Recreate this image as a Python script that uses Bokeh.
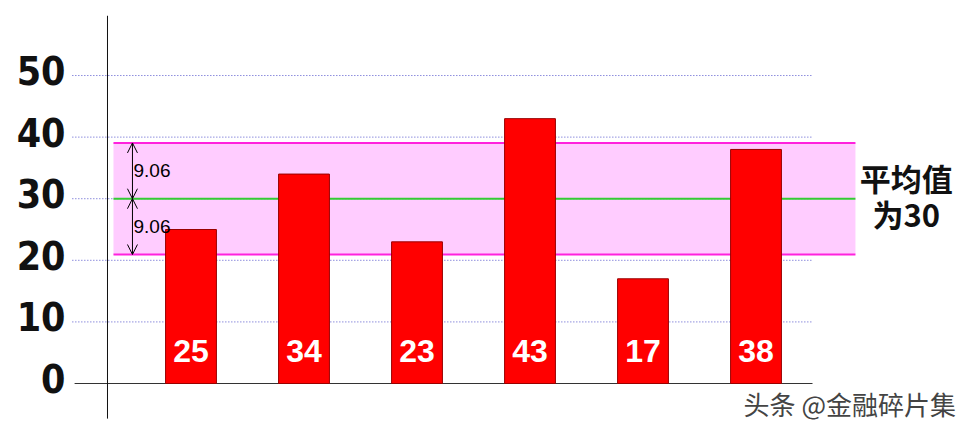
from bokeh.plotting import figure
from bokeh.models import (ColumnDataSource, Range1d, Arrow, OpenHead, Label,
                          BoxAnnotation)
from bokeh.core.properties import value
from bokeh.embed import file_html
from bokeh.resources import INLINE
import math

# ---- data ----
positions = [1, 2, 3, 4, 5, 6]
values = [25, 34, 23, 43, 17, 38]
value_labels = ["25", "34", "23", "43", "17", "38"]
y_ticks = [0, 10, 20, 30, 40, 50]
y_tick_labels = ["0", "10", "20", "30", "40", "50"]
grid_ticks = [10, 20, 30, 40, 50]
sd_label = "9.06"
note_lines = ["平均值", "为30"]
watermark = "头条 @金融碎片集"

mean = sum(values) / len(values)
sd = math.sqrt(sum((v - mean) ** 2 for v in values) / len(values))

p = figure(width=964, height=425, output_backend="svg", toolbar_location=None,
           x_range=Range1d(-0.6858, 7.845), y_range=Range1d(-6.818, 62.18),
           min_border_left=0, min_border_right=0, min_border_top=0,
           min_border_bottom=0, x_axis_location=None, y_axis_location=None)
p.outline_line_color = None
p.xgrid.visible = False
p.ygrid.visible = False
p.background_fill_color = "white"

# y tick labels
p.text(x=-0.111, y=y_ticks, text=y_tick_labels, y_offset=-5,
       text_align="right", text_baseline="middle", text_color="#111111",
       text_font=value("DejaVu Sans Condensed"), text_font_style="bold",
       text_font_size="39px")

# dotted grid lines
p.segment(x0=-0.05, x1=6.5, y0=grid_ticks, y1=grid_ticks,
          line_color="#5555cc", line_dash="1 2", line_width=1)

# band mean +- sd
p.add_layout(BoxAnnotation(left=0.314, right=6.88, bottom=mean - sd, top=mean + sd,
                           fill_color="#ffccff", fill_alpha=1.0, line_color=None,
                           level="underlay"))
p.segment(x0=0.314, x1=6.88, y0=[mean + sd, mean - sd], y1=[mean + sd, mean - sd],
          line_color="#ff22dd", line_width=2)
p.segment(x0=0.314, x1=6.88, y0=mean, y1=mean, line_color="#33cc33", line_width=2)

# baseline and vertical axis line
p.segment(x0=-0.03, x1=6.5, y0=0, y1=0, line_color="#333333", line_width=1)
p.segment(x0=0.261, x1=0.261, y0=59.7, y1=-5.7, line_color="#111111", line_width=1)

# bars
src = ColumnDataSource(dict(x=positions, top=values, lab=value_labels))
p.vbar(x="x", top="top", bottom=0, width=0.45, source=src,
       fill_color="#ff0000", line_color="#990000", line_width=1)
p.text(x="x", y=0, text="lab", source=src, y_offset=-33,
       text_align="center", text_baseline="middle", text_color="white",
       text_font=value("Liberation Sans"), text_font_style="bold",
       text_font_size="32px")

# arrows showing the standard deviation
ax = 0.482
for y0, y1 in [(mean, mean + sd), (mean, mean - sd)]:
    p.add_layout(Arrow(start=OpenHead(size=10, line_width=1, line_color="black"),
                       end=OpenHead(size=10, line_width=1, line_color="black"),
                       x_start=ax, y_start=y0, x_end=ax, y_end=y1,
                       line_color="black", line_width=1))
p.text(x=[ax, ax], y=[mean + sd / 2, mean - sd / 2], text=[sd_label, sd_label],
       x_offset=1, text_align="left", text_baseline="middle", text_color="black",
       text_font=value("Liberation Sans"), text_font_size="19px")

# note at right
p.text(x=[7.33, 7.33], y=[mean, mean], text=note_lines, y_offset=[-21, 15],
       text_align="center", text_baseline="middle", text_color="#111111",
       text_font=value("Noto Sans CJK SC"), text_font_style="bold",
       text_font_size="31px")

# watermark
p.text(x=[7.77], y=[-3.25], text=[watermark], text_align="right",
       text_baseline="middle", text_color="#444444",
       text_font=value("Noto Sans CJK SC"), text_font_size="26px")

open("out.html", "w").write(file_html(p, INLINE))
